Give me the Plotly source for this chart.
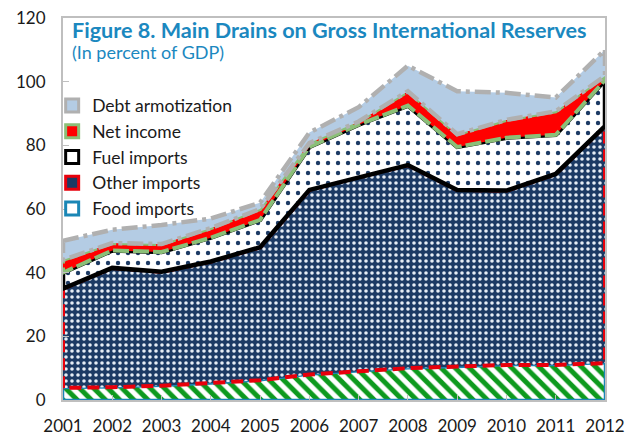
import plotly.graph_objects as go

years = list(range(2001, 2013))
food_imports  = [3.8, 4.0, 4.5, 5.2, 6.2, 8.0, 9.0, 10.0, 10.4, 11.0, 11.0, 11.6]
other_imports = [31.2, 37.5, 35.8, 38.3, 41.8, 58.0, 61.0, 63.8, 55.6, 54.8, 60.0, 74.4]
fuel_imports  = [5.0, 5.5, 6.2, 7.5, 8.6, 13.5, 16.5, 18.7, 13.5, 16.6, 12.3, 14.5]
net_income    = [4.0, 2.3, 2.5, 3.0, 3.4, 1.2, 1.0, 4.5, 4.0, 5.6, 7.4, 1.3]
debt_amort    = [6.0, 4.2, 6.0, 3.0, 2.0, 3.3, 4.5, 8.0, 13.5, 8.5, 4.3, 8.2]
y_ticks = [0, 20, 40, 60, 80, 100, 120]

series = [
    ("Food imports", food_imports,
     dict(fill="white", pattern=dict(shape="\\", fgcolor="#0E9A1E", bgcolor="white", size=10,
                                     solidity=0.5, fgopacity=1),
          line=dict(color="#1A86B5", width=2.5), legend_fill="#FFFFFF")),
    ("Other imports", other_imports,
     dict(fill="#1C3A64", pattern=dict(shape=".", fgcolor="#E6EDF5", bgcolor="#1C3A64", size=6,
                                       solidity=0.28, fgopacity=1),
          line=dict(color="#E8000B", width=4, dash="12px,6px"), legend_fill="#1C3A64")),
    ("Fuel imports", fuel_imports,
     dict(fill="white", pattern=dict(shape=".", fgcolor="#1C3A64", bgcolor="white", size=10,
                                     solidity=0.15, fgopacity=1),
          line=dict(color="#000000", width=4.5), legend_fill="#FFFFFF")),
    ("Net income", net_income,
     dict(fill="#FF0000", pattern=None,
          line=dict(color="#8BBF77", width=4, dash="16px,4px"), legend_fill="#FF0000")),
    ("Debt armotization", debt_amort,
     dict(fill="#B4CCE4", pattern=None,
          line=dict(color="#B0B0B0", width=4.5, dash="16px,5px,4px,5px"), legend_fill="#B4CCE4")),
]

fig = go.Figure()
base = [0.0] * len(years)
for name, vals, st in series:
    top = [b + v for b, v in zip(base, vals)]
    xs = years + years[::-1] + [years[0]]
    ys = top + base[::-1] + [top[0]]
    kw = dict(x=xs, y=ys, mode="lines", fill="toself", fillcolor=st["fill"],
              line=st["line"], showlegend=False, hoverinfo="skip", name=name)
    if st["pattern"]:
        kw["fillpattern"] = st["pattern"]
    fig.add_trace(go.Scatter(**kw))
    base = top

# legend entries (top to bottom as in the reference)
for name, vals, st in series[::-1]:
    fig.add_trace(go.Scatter(
        x=[None], y=[None], mode="markers", name=name,
        marker=dict(symbol="square", size=13, color=st["legend_fill"],
                    line=dict(color=st["line"]["color"], width=3)),
    ))

title_color = "#1B88BF"
fig.add_annotation(text="<b>Figure 8. Main Drains on Gross International Reserves</b>",
                   xref="paper", yref="paper", x=0.012, y=0.969, xanchor="left", yanchor="middle",
                   showarrow=False, font=dict(size=21.6, color=title_color, family="Lato"))
fig.add_annotation(text="(In percent of GDP)",
                   xref="paper", yref="paper", x=0.012, y=0.911, xanchor="left", yanchor="middle",
                   showarrow=False, font=dict(size=18, color=title_color, family="Lato"))

fig.update_layout(
    width=629, height=436,
    margin=dict(l=63, r=24, t=18, b=36, autoexpand=False),
    paper_bgcolor="white", plot_bgcolor="white",
    font=dict(family="Lato", size=17, color="#1a1a1a"),
    legend=dict(x=-0.02, y=0.818, xanchor="left", yanchor="top",
                bgcolor="rgba(0,0,0,0)", font=dict(size=17.5), tracegroupgap=0,
                itemwidth=30),
    showlegend=True,
)
fig.update_xaxes(range=[2001, 2012], tickvals=years, ticktext=[str(y) for y in years],
                 showgrid=False, zeroline=False, showline=True, linecolor="#BFBFBF", linewidth=2,
                 mirror=True, ticks="inside", ticklen=5, tickcolor="#BFBFBF", ticklabelstandoff=10,
                 automargin=False)
fig.update_yaxes(range=[0, 120], tickvals=y_ticks, showgrid=False, zeroline=False,
                 showline=True, linecolor="#BFBFBF", linewidth=2, mirror=True,
                 ticks="inside", ticklen=6, tickcolor="#BFBFBF", ticklabelstandoff=12,
                 automargin=False)

fig.write_html("out.html")
